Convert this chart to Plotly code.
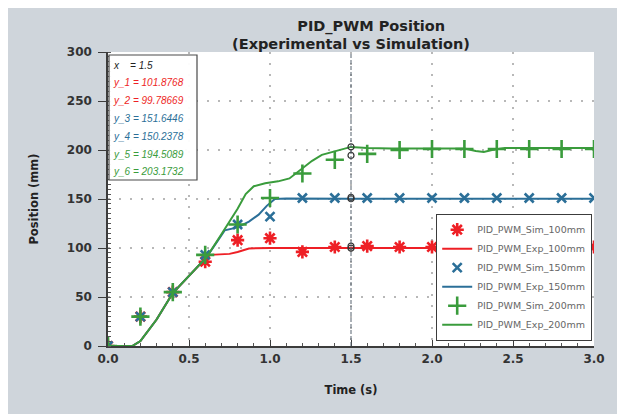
import plotly.graph_objects as go

# ---------------- data ----------------
sim_t = [0.0, 0.2, 0.4, 0.6, 0.8, 1.0, 1.2, 1.4, 1.6, 1.8, 2.0, 2.2, 2.4, 2.6, 2.8, 3.0]
sim_100 = [0, 30, 55, 86, 108, 110, 96, 101, 102, 101, 101, 101, 101, 101, 101, 101]
sim_150 = [0, 30, 55, 93, 124, 132, 151, 151, 151, 151, 151, 151, 151, 151, 151, 151]
sim_200 = [0, 30, 55, 93, 124, 151, 176, 190, 196, 200, 201, 201, 201, 201, 201, 201]

exp_t_100 = [0.0, 0.15, 0.2, 0.3, 0.4, 0.5, 0.6, 0.63, 0.75, 0.8, 0.87, 1.0, 1.5, 2.0, 3.0]
exp_100 = [0, 0, 5, 27, 54, 72, 89, 93, 94, 96, 99.5, 100, 99.78669, 100, 100]

exp_t_150 = [0.0, 0.15, 0.2, 0.3, 0.4, 0.5, 0.61, 0.68, 0.72, 0.8, 0.87, 0.93, 0.98, 1.03, 1.1, 1.5, 2.0, 3.0]
exp_150 = [0, 0, 5, 27, 54, 72, 91, 108, 118, 121, 127, 134, 143, 150, 150.5, 150.2378, 150.3, 150.3]

exp_t_200 = [0.0, 0.15, 0.2, 0.3, 0.4, 0.5, 0.61, 0.7, 0.8, 0.85, 0.9, 0.97, 1.05, 1.12, 1.19,
             1.26, 1.32, 1.41, 1.5, 1.6, 1.75, 2.0, 2.2, 2.27, 2.32, 2.37, 2.45, 2.7, 3.0]
exp_200 = [0, 0, 5, 27, 54, 72, 91, 114, 140, 155, 163, 166, 168, 171, 180,
           189, 195, 199, 203.1732, 202, 201.5, 201.5, 201.5, 199, 198, 200, 202, 202, 202]

tip_x = 1.5
tip_names = ["y_1", "y_2", "y_3", "y_4", "y_5", "y_6"]
tip_values = [101.8768, 99.78669, 151.6446, 150.2378, 194.5089, 203.1732]

x_ticks = [0.0, 0.5, 1.0, 1.5, 2.0, 2.5, 3.0]
y_ticks = [0, 50, 100, 150, 200, 250, 300]

# ---------------- styles ----------------
RED = "#ee1f25"
BLUE = "#2b6f98"
GREEN = "#3a9c3c"
FONT = "DejaVu Sans"

W, H = 625, 414
OFF = 8                      # page offset of the figure (body margin)
L, T = 100, 44               # plot area origin in figure coords
PW, PH = 486, 294
R = W - L - PW
B = H - T - PH


def px2x(px):                # page pixel -> paper x
    return (px - OFF - L) / PW


def py2y(py):                # page pixel -> paper y
    return (T + PH - (py - OFF)) / PH


fig = go.Figure()

fig.add_trace(go.Scatter(
    x=sim_t, y=sim_100, mode="markers", name="PID_PWM_Sim_100mm",
    marker=dict(symbol="asterisk-open", size=11, color=RED, line=dict(color=RED, width=2.6))))
fig.add_trace(go.Scatter(
    x=exp_t_100, y=exp_100, mode="lines", name="PID_PWM_Exp_100mm",
    line=dict(color=RED, width=2)))
fig.add_trace(go.Scatter(
    x=sim_t, y=sim_150, mode="markers", name="PID_PWM_Sim_150mm",
    marker=dict(symbol="x-thin-open", size=9, color=BLUE, line=dict(color=BLUE, width=2.6))))
fig.add_trace(go.Scatter(
    x=exp_t_150, y=exp_150, mode="lines", name="PID_PWM_Exp_150mm",
    line=dict(color=BLUE, width=2)))
fig.add_trace(go.Scatter(
    x=sim_t, y=sim_200, mode="markers", name="PID_PWM_Sim_200mm",
    marker=dict(symbol="cross-thin-open", size=13, color=GREEN, line=dict(color=GREEN, width=2.6))))
fig.add_trace(go.Scatter(
    x=exp_t_200, y=exp_200, mode="lines", name="PID_PWM_Exp_200mm",
    line=dict(color=GREEN, width=2)))

# datatip circles
fig.add_trace(go.Scatter(
    x=[tip_x] * len(tip_values), y=tip_values, mode="markers", showlegend=False,
    marker=dict(symbol="circle-open", size=6, color="#333333", line=dict(color="#333333", width=1.2)),
    hoverinfo="skip"))

fig.add_vline(x=tip_x, line=dict(color="#56626f", width=1, dash="4px,2px"))

# datatip box
fig.add_shape(type="rect", xref="paper", yref="paper", x0=px2x(109), x1=px2x(197), y0=py2y(180), y1=py2y(55),
              fillcolor="rgba(255,255,255,0.95)", line=dict(color="#4a4a4a", width=1.2))
tip_colors = [RED, RED, BLUE, BLUE, GREEN, GREEN]
tip_lines = [("x&nbsp;&nbsp;&nbsp;&nbsp;= " + str(tip_x), "#222222")] + [
    (n + " = " + str(v), c) for n, v, c in zip(tip_names, tip_values, tip_colors)]
for i, (txt, col) in enumerate(tip_lines):
    fig.add_annotation(xref="paper", yref="paper", x=px2x(111), y=py2y(65 + i * 17.8),
                       xanchor="left", yanchor="middle", showarrow=False,
                       text="<i>" + txt + "</i>", font=dict(family="Liberation Sans", size=10, color=col))

grid = dict(showgrid=True, gridcolor="#b8b8b8", gridwidth=1.6, griddash="2px,9px")
axis_common = dict(showline=True, linecolor="#3c3c3c", linewidth=1.5, tickcolor="#3c3c3c", tickwidth=1.2,
                   zeroline=False, mirror=False, automargin=False,
                   tickfont=dict(family=FONT, size=12, color="#333333", weight="bold"))

fig.update_layout(
    width=W, height=H, autosize=False,
    margin=dict(l=L, r=R, t=T, b=B),
    paper_bgcolor="#cfd5db", plot_bgcolor="white",
    title=dict(text="&nbsp;" * 8 + "PID_PWM Position<br>(Experimental vs Simulation)",
               x=(351 - OFF) / W, xanchor="center", y=1 - (30.5 - OFF) / H, yanchor="middle", yref="container",
               font=dict(family=FONT, size=14.5, color="#222222", weight="bold")),
    xaxis=dict(range=[0, 3], tickvals=x_ticks, ticktext=["%.1f" % v for v in x_ticks],
               ticks="inside", ticklen=6, ticklabelstandoff=1,
               minor=dict(dtick=0.1, ticks="inside", ticklen=3, tickcolor="#555555", showgrid=False),
               title=dict(text="Time (s)", standoff=21,
                          font=dict(family=FONT, size=11.5, color="#222222", weight="bold")),
               **grid, **axis_common),
    yaxis=dict(range=[0, 300], tickvals=y_ticks, ticks="outside", ticklen=8, ticklabelstandoff=4,
               minor=dict(dtick=5, ticks="inside", ticklen=3, tickcolor="#555555", showgrid=False),
               title=dict(text="Position (mm)", standoff=26,
                          font=dict(family=FONT, size=11.5, color="#222222", weight="bold")),
               **grid, **axis_common),
    legend=dict(x=px2x(592), y=py2y(341), xanchor="right", yanchor="bottom",
                bgcolor="white", bordercolor="#3c3c3c", borderwidth=1.2,
                font=dict(family=FONT, size=9.5, color="#666666"), tracegroupgap=0,
                itemwidth=30),
    showlegend=True,
)

fig.write_html("out.html")
